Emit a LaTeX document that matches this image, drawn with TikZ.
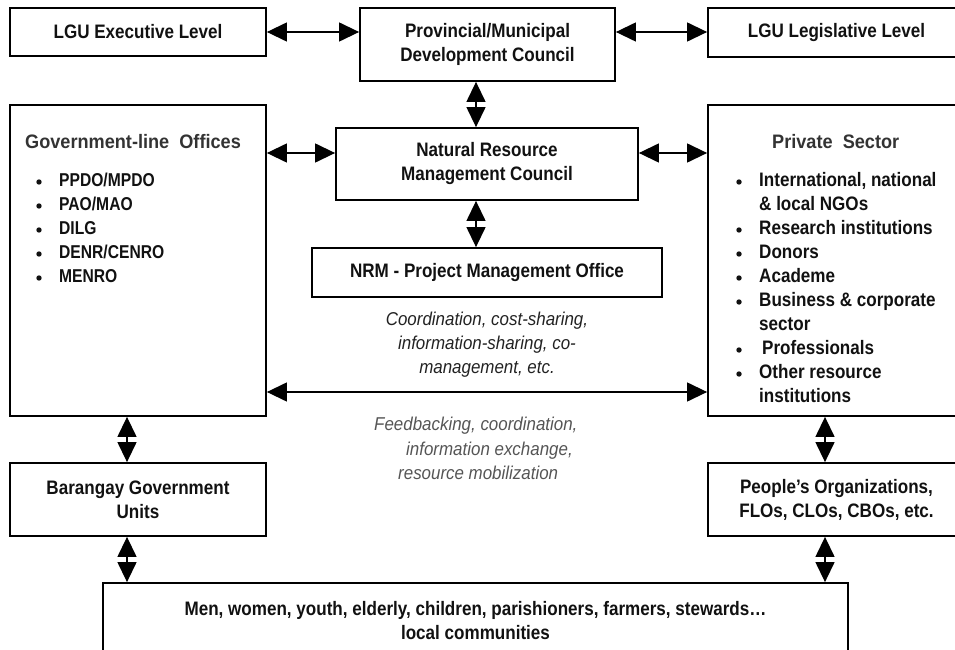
\documentclass[tikz,border=0pt]{standalone}
\usepackage{fontspec}
\setmainfont{Liberation Sans}
\newfontfamily\boxfont[FakeStretch=0.875]{Liberation Sans}
\newfontfamily\hdrfont[FakeStretch=0.93]{Liberation Sans}
\newfontfamily\govfont[FakeStretch=0.84]{Liberation Sans}
\newfontfamily\notefont[FakeStretch=0.91]{Liberation Sans}
\usetikzlibrary{arrows.meta}
\definecolor{txt}{HTML}{111111}
\definecolor{hdr}{HTML}{333333}
\definecolor{fb}{HTML}{555555}
\definecolor{co}{HTML}{222222}
\begin{document}
\begin{tikzpicture}[x=1pt,y=-1pt,
  box/.style={draw=black,line width=1.8pt,inner sep=0pt,align=center,text=txt,
    font=\boxfont\bfseries\fontsize{19.5}{24}\selectfont},
  dbl/.style={{Triangle[length=20pt,width=19pt]}-{Triangle[length=20pt,width=19pt]},line width=1.3pt},
  item/.style={inner sep=0pt,anchor=base west,text=txt,font=\boxfont\bfseries\fontsize{19.5}{24}\selectfont},
  gitem/.style={item,font=\govfont\bfseries\fontsize{18.6}{24}\selectfont},
  head/.style={inner sep=0pt,anchor=base west,text=hdr,font=\hdrfont\bfseries\fontsize{19.5}{24}\selectfont},
  note/.style={inner sep=0pt,font=\notefont\itshape\fontsize{18.6}{24}\selectfont},
  bul/.style={fill=txt}]
\useasboundingbox (0,0) rectangle (955,650);
\clip (0,0) rectangle (955,650);

% boxes
\node[box,minimum width=256pt,minimum height=48pt] (exec) at (138,32) {LGU Executive Level};
\node[box,minimum width=255pt,minimum height=73pt] (prov) at (487.5,44.5) {Provincial/Municipal\\Development Council};
\node[box,minimum width=257pt,minimum height=49pt] (legis) at (836.5,32.5) {LGU Legislative Level};
\node[box,minimum width=256pt,minimum height=311pt] (gov) at (138,260.5) {};
\node[box,minimum width=302pt,minimum height=72pt] (nrmc) at (487,164) {Natural Resource\\Management Council};
\node[box,minimum width=350pt,minimum height=49pt] (pmo) at (487,272.5) {NRM - Project Management Office};
\node[box,minimum width=257pt,minimum height=311pt] (priv) at (836.5,260.5) {};
\node[box,minimum width=256pt,minimum height=73pt] (bar) at (138,499.5) {Barangay Government\\Units};
\node[box,minimum width=257pt,minimum height=73pt] (peo) at (836.5,499.5) {People’s Organizations,\\FLOs, CLOs, CBOs, etc.};
\node[box,minimum width=745pt,minimum height=76pt] (comm) at (475.5,621) {Men, women, youth, elderly, children, parishioners, farmers, stewards\ldots\\local communities};

% headers and lists
\node[head] (govh) at (25,149) {Government-line\ \ Offices};
\node[head] (privh) at (772,149) {Private\ \ Sector};
\foreach \t [count=\i] in {PPDO/MPDO,PAO/MAO,DILG,DENR/CENRO,MENRO} {
  \fill[bul] (39,{182+24*(\i-1)}) circle (2.7pt);
  \node[gitem] (g\i) at (59,{186+24*(\i-1)}) {\t};
}
\node[item] (p1) at (759,186) {International, national};
\node[item] (p2) at (759,210) {\& local NGOs};
\node[item] (p3) at (759,234) {Research institutions};
\node[item] (p4) at (759,258) {Donors};
\node[item] (p5) at (759,282) {Academe};
\node[item] (p6) at (759,306) {Business \& corporate};
\node[item] (p7) at (759,330) {sector};
\node[item] (p8) at (762,354) {Professionals};
\node[item] (p9) at (759,378) {Other resource};
\node[item] (p10) at (759,402) {institutions};
\foreach \y in {186,234,258,282,306,354,378} {
  \fill[bul] (739,{\y-4}) circle (2.7pt);
}

% notes
\node[note,text=co,align=center,anchor=north] (coord) at (487,312) {Coordination, cost-sharing,\\information-sharing, co-\\management, etc.};
\node[note,text=fb,anchor=base west] (fb1) at (374,430) {Feedbacking,\ coordination,};
\node[note,text=fb,anchor=base west] (fb2) at (406,455) {information\ exchange,};
\node[note,text=fb,anchor=base west] (fb3) at (398,479) {resource mobilization};

% connector coordinates
\coordinate (ytop) at (0,32);
\coordinate (ymid) at (0,153);
\coordinate (ylong) at (0,392);
\coordinate (xc) at (476,0);
\coordinate (xl) at (127,0);
\coordinate (xr) at (825,0);

% connectors
\draw[dbl] (exec.east |- ytop) -- (prov.west |- ytop);
\draw[dbl] (prov.east |- ytop) -- (legis.west |- ytop);
\draw[dbl] (prov.south -| xc) -- (nrmc.north -| xc);
\draw[dbl] (nrmc.south -| xc) -- (pmo.north -| xc);
\draw[dbl] (gov.east |- ymid) -- (nrmc.west |- ymid);
\draw[dbl] (nrmc.east |- ymid) -- (priv.west |- ymid);
\draw[dbl] (gov.east |- ylong) -- (priv.west |- ylong);
\draw[dbl] (gov.south -| xl) -- (bar.north -| xl);
\draw[dbl] (bar.south -| xl) -- (comm.north -| xl);
\draw[dbl] (priv.south -| xr) -- (peo.north -| xr);
\draw[dbl] (peo.south -| xr) -- (comm.north -| xr);
\end{tikzpicture}
\end{document}
